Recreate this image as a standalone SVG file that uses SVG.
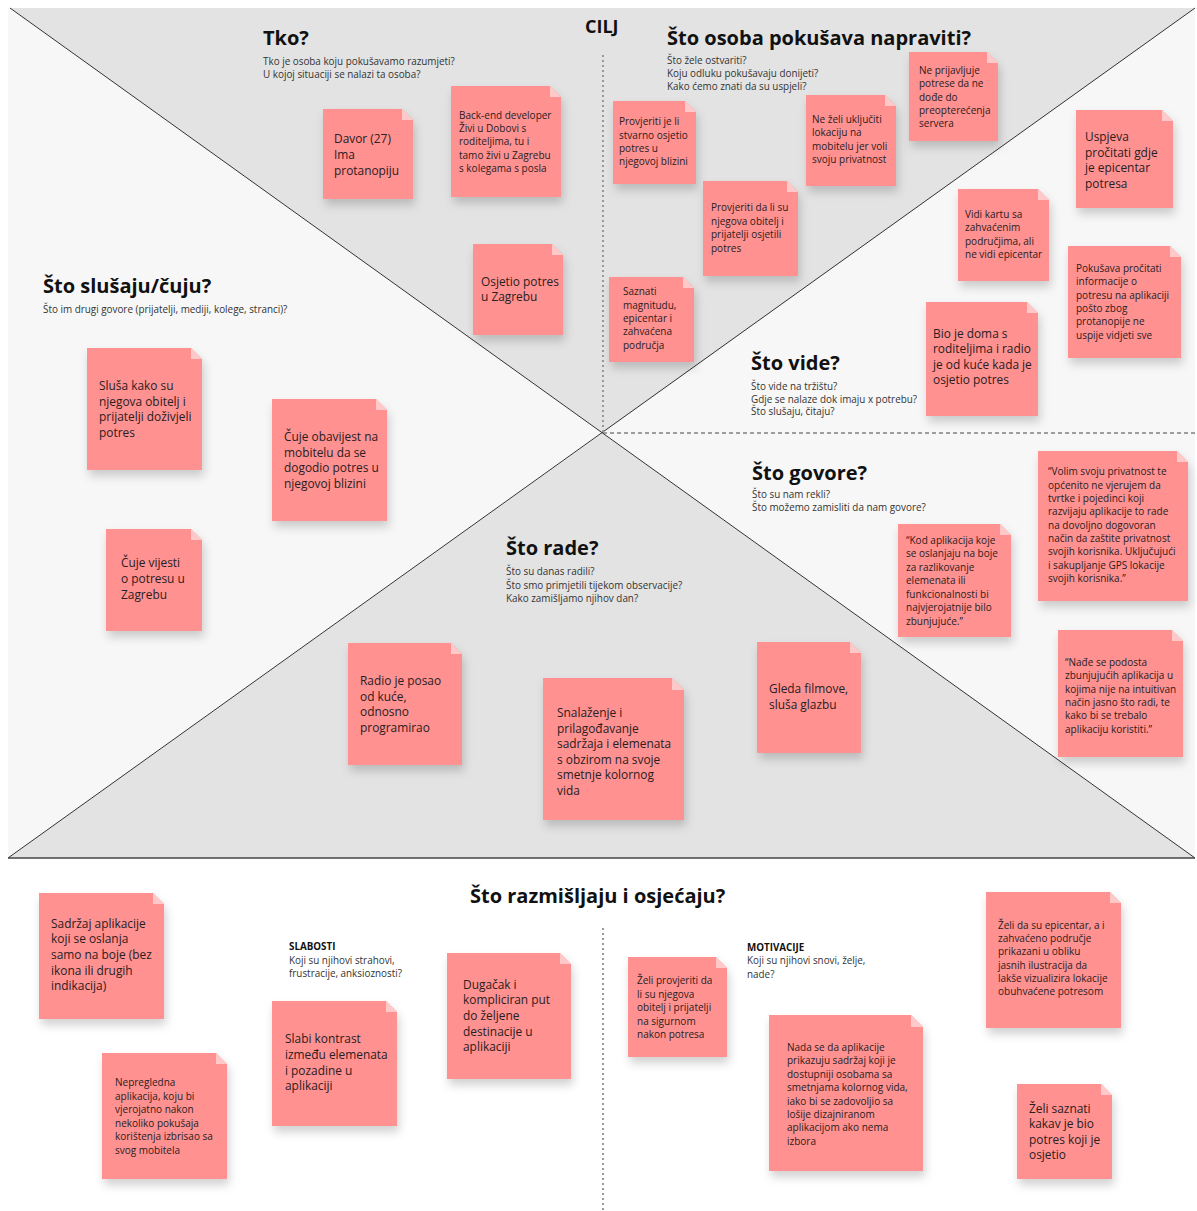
<svg xmlns="http://www.w3.org/2000/svg" width="1197" height="1211" viewBox="0 0 1197 1211">
<defs>
<filter id="sh" x="-20%" y="-20%" width="150%" height="160%">
<feDropShadow dx="2" dy="6" stdDeviation="5" flood-color="#000" flood-opacity="0.18"/>
</filter>
</defs>
<style>
text{font-family:"Open Sans","Noto Sans","DejaVu Sans",sans-serif}
.h{font-size:20px;font-weight:700;fill:#111}
.sub{font-size:9.9px;fill:#333}
.sb{font-size:9.8px;font-weight:700;fill:#111}
.note{fill:#ff9191}
.fold{fill:#ffc9c9}
.t12{font-size:11.9px;fill:#2a2020}
.t10{font-size:10px;fill:#2a2020}
.diag{stroke:#333;stroke-width:1;fill:none}
</style>
<rect x="0" y="0" width="1197" height="1211" fill="#ffffff"/>
<g id="panel">
<rect x="8" y="8" width="1187" height="850" fill="#f7f7f7"/>
<polygon points="10,8 1195,8 602.5,433" fill="#e3e3e3"/>
<polygon points="8,858 1195,858 602.5,433" fill="#e3e3e3"/>
<line class="diag" x1="10" y1="8" x2="1195" y2="858"/>
<line class="diag" x1="8" y1="858" x2="1195" y2="8"/>
<line x1="8" y1="858" x2="1195" y2="858" stroke="#444" stroke-width="1.5"/>
<line x1="603" y1="55" x2="603" y2="433" stroke="#999" stroke-width="2" stroke-dasharray="2,3"/>
<line x1="603" y1="433" x2="1197" y2="433" stroke="#444" stroke-width="1" stroke-dasharray="4,3"/>
<line x1="603" y1="928" x2="603" y2="1211" stroke="#999" stroke-width="2" stroke-dasharray="2,3"/>
</g>
<g id="headers">
<text class="h" x="263" y="45">Tko?</text>
<text class="sub" x="263" y="64.5">Tko je osoba koju pokušavamo razumjeti?</text>
<text class="sub" x="263" y="78">U kojoj situaciji se nalazi ta osoba?</text>
<text class="h" x="585" y="33" style="font-size:18px">CILJ</text>
<text class="h" x="667" y="45">Što osoba pokušava napraviti?</text>
<text class="sub" x="667" y="63.5">Što žele ostvariti?</text>
<text class="sub" x="667" y="77">Koju odluku pokušavaju donijeti?</text>
<text class="sub" x="667" y="90">Kako ćemo znati da su uspjeli?</text>
<text class="h" x="43" y="293">Što slušaju/čuju?</text>
<text class="sub" x="43" y="312.5">Što im drugi govore (prijatelji, mediji, kolege, stranci)?</text>
<text class="h" x="751" y="370">Što vide?</text>
<text class="sub" x="751" y="389.5">Što vide na tržištu?</text>
<text class="sub" x="751" y="402.5">Gdje se nalaze dok imaju x potrebu?</text>
<text class="sub" x="751" y="415">Što slušaju, čitaju?</text>
<text class="h" x="752" y="480">Što govore?</text>
<text class="sub" x="752" y="497.5">Što su nam rekli?</text>
<text class="sub" x="752" y="511">Što možemo zamisliti da nam govore?</text>
<text class="h" x="506" y="555">Što rade?</text>
<text class="sub" x="506" y="575">Što su danas radili?</text>
<text class="sub" x="506" y="588.5">Što smo primjetili tijekom observacije?</text>
<text class="sub" x="506" y="601.5">Kako zamišljamo njihov dan?</text>
<text class="h" x="470" y="903">Što razmišljaju i osjećaju?</text>
<text class="sb" x="289" y="950">SLABOSTI</text>
<text class="sub" x="289" y="963.5">Koji su njihovi strahovi,</text>
<text class="sub" x="289" y="977">frustracije, anksioznosti?</text>
<text class="sb" x="747" y="951">MOTIVACIJE</text>
<text class="sub" x="747" y="964">Koji su njihovi snovi, želje,</text>
<text class="sub" x="747" y="977.5">nade?</text>
</g>

<g id="n-davor"><path class="note" filter="url(#sh)" d="M323 109H402L413 120V199H323Z"/><path class="fold" d="M402 109L413 120H402Z"/>
<text class="t12"><tspan x="334" y="143">Davor (27)</tspan><tspan x="334" y="159">Ima</tspan><tspan x="334" y="175">protanopiju</tspan></text></g>

<g id="n-backend"><path class="note" filter="url(#sh)" d="M451 86H550L561 97V197H451Z"/><path class="fold" d="M550 86L561 97H550Z"/>
<text class="t10"><tspan x="459" y="118.5">Back-end developer</tspan><tspan x="459" y="132">Živi u Dobovi s</tspan><tspan x="459" y="145">roditeljima, tu i</tspan><tspan x="459" y="158.5">tamo živi u Zagrebu</tspan><tspan x="459" y="172">s kolegama s posla</tspan></text></g>

<g id="n-osjetio"><path class="note" filter="url(#sh)" d="M473 244H552L563 255V335H473Z"/><path class="fold" d="M552 244L563 255H552Z"/>
<text class="t12"><tspan x="481" y="286">Osjetio potres</tspan><tspan x="481" y="301">u Zagrebu</tspan></text></g>

<g id="n-provjeriti1"><path class="note" filter="url(#sh)" d="M613 101H685L696 112V184H613Z"/><path class="fold" d="M685 101L696 112H685Z"/>
<text class="t10"><tspan x="619" y="125">Provjeriti je li</tspan><tspan x="619" y="138.5">stvarno osjetio</tspan><tspan x="619" y="152">potres u</tspan><tspan x="619" y="165">njegovoj blizini</tspan></text></g>

<g id="n-provjeriti2"><path class="note" filter="url(#sh)" d="M703 181H787L798 192V276H703Z"/><path class="fold" d="M787 181L798 192H787Z"/>
<text class="t10"><tspan x="711" y="211">Provjeriti da li su</tspan><tspan x="711" y="224.5">njegova obitelj i</tspan><tspan x="711" y="238">prijatelji osjetili</tspan><tspan x="711" y="251.5">potres</tspan></text></g>

<g id="n-nezeli"><path class="note" filter="url(#sh)" d="M806 95H885L896 106V186H806Z"/><path class="fold" d="M885 95L896 106H885Z"/>
<text class="t10"><tspan x="812" y="123">Ne želi uključiti</tspan><tspan x="812" y="136.3">lokaciju na</tspan><tspan x="812" y="149.7">mobitelu jer voli</tspan><tspan x="812" y="163">svoju privatnost</tspan></text></g>

<g id="n-neprijavljuje"><path class="note" filter="url(#sh)" d="M909 52H987L998 63V141H909Z"/><path class="fold" d="M987 52L998 63H987Z"/>
<text class="t10"><tspan x="919" y="73.5">Ne prijavljuje</tspan><tspan x="919" y="87">potrese da ne</tspan><tspan x="919" y="100.5">dođe do</tspan><tspan x="919" y="114">preopterećenja</tspan><tspan x="919" y="127">servera</tspan></text></g>

<g id="n-saznati"><path class="note" filter="url(#sh)" d="M609 277H683L694 288V362H609Z"/><path class="fold" d="M683 277L694 288H683Z"/>
<text class="t10"><tspan x="623" y="295">Saznati</tspan><tspan x="623" y="308.5">magnitudu,</tspan><tspan x="623" y="322">epicentar i</tspan><tspan x="623" y="335">zahvaćena</tspan><tspan x="623" y="348.5">područja</tspan></text></g>

<g id="n-uspjeva"><path class="note" filter="url(#sh)" d="M1076 110H1162L1173 121V208H1076Z"/><path class="fold" d="M1162 110L1173 121H1162Z"/>
<text class="t12"><tspan x="1085" y="141">Uspjeva</tspan><tspan x="1085" y="156.5">pročitati gdje</tspan><tspan x="1085" y="172">je epicentar</tspan><tspan x="1085" y="187.5">potresa</tspan></text></g>

<g id="n-vidikartu"><path class="note" filter="url(#sh)" d="M958 189H1038L1049 200V281H958Z"/><path class="fold" d="M1038 189L1049 200H1038Z"/>
<text class="t10"><tspan x="965" y="217.5">Vidi kartu sa</tspan><tspan x="965" y="231">zahvaćenim</tspan><tspan x="965" y="244.5">područjima, ali</tspan><tspan x="965" y="258">ne vidi epicentar</tspan></text></g>

<g id="n-pokusava"><path class="note" filter="url(#sh)" d="M1068 246H1170L1181 257V358H1068Z"/><path class="fold" d="M1170 246L1181 257H1170Z"/>
<text class="t10"><tspan x="1076" y="272">Pokušava pročitati</tspan><tspan x="1076" y="285">informacije o</tspan><tspan x="1076" y="298.5">potresu na aplikaciji</tspan><tspan x="1076" y="312">pošto zbog</tspan><tspan x="1076" y="325">protanopije ne</tspan><tspan x="1076" y="338.5">uspije vidjeti sve</tspan></text></g>

<g id="n-biojedoma"><path class="note" filter="url(#sh)" d="M926 302H1027L1038 313V416H926Z"/><path class="fold" d="M1027 302L1038 313H1027Z"/>
<text class="t12"><tspan x="933" y="337.5">Bio je doma s</tspan><tspan x="933" y="353">roditeljima i radio</tspan><tspan x="933" y="368.5">je od kuće kada je</tspan><tspan x="933" y="384">osjetio potres</tspan></text></g>

<g id="n-slusa"><path class="note" filter="url(#sh)" d="M87 348H191L202 359V470H87Z"/><path class="fold" d="M191 348L202 359H191Z"/>
<text class="t12"><tspan x="99" y="390">Sluša kako su</tspan><tspan x="99" y="405.5">njegova obitelj i</tspan><tspan x="99" y="421">prijatelji doživjeli</tspan><tspan x="99" y="436.5">potres</tspan></text></g>

<g id="n-obavijest"><path class="note" filter="url(#sh)" d="M272 399H376L387 410V521H272Z"/><path class="fold" d="M376 399L387 410H376Z"/>
<text class="t12"><tspan x="284" y="441">Čuje obavijest na</tspan><tspan x="284" y="456.5">mobitelu da se</tspan><tspan x="284" y="472">dogodio potres u</tspan><tspan x="284" y="487.5">njegovoj blizini</tspan></text></g>

<g id="n-vijesti"><path class="note" filter="url(#sh)" d="M106 529H191L202 540V631H106Z"/><path class="fold" d="M191 529L202 540H191Z"/>
<text class="t12"><tspan x="121" y="567">Čuje vijesti</tspan><tspan x="121" y="583">o potresu u</tspan><tspan x="121" y="598.5">Zagrebu</tspan></text></g>

<g id="n-radio"><path class="note" filter="url(#sh)" d="M348 643H451L462 654V765H348Z"/><path class="fold" d="M451 643L462 654H451Z"/>
<text class="t12"><tspan x="360" y="685">Radio je posao</tspan><tspan x="360" y="700.5">od kuće,</tspan><tspan x="360" y="716">odnosno</tspan><tspan x="360" y="731.5">programirao</tspan></text></g>

<g id="n-snalazenje"><path class="note" filter="url(#sh)" d="M543 678H672L684 690V820H543Z"/><path class="fold" d="M672 678L684 690H672Z"/>
<text class="t12"><tspan x="557" y="717">Snalaženje i</tspan><tspan x="557" y="732.5">prilagođavanje</tspan><tspan x="557" y="748">sadržaja i elemenata</tspan><tspan x="557" y="763.5">s obzirom na svoje</tspan><tspan x="557" y="779">smetnje kolornog</tspan><tspan x="557" y="794.5">vida</tspan></text></g>

<g id="n-gleda"><path class="note" filter="url(#sh)" d="M757 642H850L861 653V753H757Z"/><path class="fold" d="M850 642L861 653H850Z"/>
<text class="t12"><tspan x="769" y="692.5">Gleda filmove,</tspan><tspan x="769" y="708.5">sluša glazbu</tspan></text></g>

<g id="n-kodaplikacija"><path class="note" filter="url(#sh)" d="M898 524H1000L1011 535V637H898Z"/><path class="fold" d="M1000 524L1011 535H1000Z"/>
<text class="t10"><tspan x="906" y="543.5">“Kod aplikacija koje</tspan><tspan x="906" y="557">se oslanjaju na boje</tspan><tspan x="906" y="570.5">za razlikovanje</tspan><tspan x="906" y="584">elemenata ili</tspan><tspan x="906" y="597.5">funkcionalnosti bi</tspan><tspan x="906" y="611">najvjerojatnije bilo</tspan><tspan x="906" y="624.5">zbunjujuće.”</tspan></text></g>

<g id="n-volim"><path class="note" filter="url(#sh)" d="M1038 451H1177L1188 462V601H1038Z"/><path class="fold" d="M1177 451L1188 462H1177Z"/>
<text class="t10"><tspan x="1048" y="475">“Volim svoju privatnost te</tspan><tspan x="1048" y="488.5">općenito ne vjerujem da</tspan><tspan x="1048" y="502">tvrtke i pojedinci koji</tspan><tspan x="1048" y="515">razvijaju aplikacije to rade</tspan><tspan x="1048" y="528.5">na dovoljno dogovoran</tspan><tspan x="1048" y="542">način da zaštite privatnost</tspan><tspan x="1048" y="555">svojih korisnika. Uključujući</tspan><tspan x="1048" y="568.5">i sakupljanje GPS lokacije</tspan><tspan x="1048" y="582">svojih korisnika.”</tspan></text></g>

<g id="n-nadjese"><path class="note" filter="url(#sh)" d="M1058 630H1172L1183 641V757H1058Z"/><path class="fold" d="M1172 630L1183 641H1172Z"/>
<text class="t10"><tspan x="1065" y="666">“Nađe se podosta</tspan><tspan x="1065" y="679">zbunjujućih aplikacija u</tspan><tspan x="1065" y="692.5">kojima nije na intuitivan</tspan><tspan x="1065" y="706">način jasno što radi, te</tspan><tspan x="1065" y="719">kako bi se trebalo</tspan><tspan x="1065" y="732.5">aplikaciju koristiti.”</tspan></text></g>

<g id="n-sadrzaj"><path class="note" filter="url(#sh)" d="M39 893H153L164 904V1019H39Z"/><path class="fold" d="M153 893L164 904H153Z"/>
<text class="t12"><tspan x="51" y="927.5">Sadržaj aplikacije</tspan><tspan x="51" y="943">koji se oslanja</tspan><tspan x="51" y="959">samo na boje (bez</tspan><tspan x="51" y="974.5">ikona ili drugih</tspan><tspan x="51" y="990">indikacija)</tspan></text></g>

<g id="n-nepregledna"><path class="note" filter="url(#sh)" d="M102 1053H216L227 1064V1179H102Z"/><path class="fold" d="M216 1053L227 1064H216Z"/>
<text class="t10"><tspan x="115" y="1086">Nepregledna</tspan><tspan x="115" y="1099.5">aplikacija, koju bi</tspan><tspan x="115" y="1113">vjerojatno nakon</tspan><tspan x="115" y="1126.5">nekoliko pokušaja</tspan><tspan x="115" y="1140">korištenja izbrisao sa</tspan><tspan x="115" y="1153.5">svog mobitela</tspan></text></g>

<g id="n-slabi"><path class="note" filter="url(#sh)" d="M272 1001H386L397 1012V1126H272Z"/><path class="fold" d="M386 1001L397 1012H386Z"/>
<text class="t12"><tspan x="285" y="1043">Slabi kontrast</tspan><tspan x="285" y="1058.5">između elemenata</tspan><tspan x="285" y="1074.5">i pozadine u</tspan><tspan x="285" y="1090">aplikaciji</tspan></text></g>

<g id="n-dugacak"><path class="note" filter="url(#sh)" d="M447 953H560L571 964V1079H447Z"/><path class="fold" d="M560 953L571 964H560Z"/>
<text class="t12"><tspan x="463" y="988.5">Dugačak i</tspan><tspan x="463" y="1004">kompliciran put</tspan><tspan x="463" y="1020">do željene</tspan><tspan x="463" y="1035.5">destinacije u</tspan><tspan x="463" y="1051">aplikaciji</tspan></text></g>

<g id="n-zeliprovjeriti"><path class="note" filter="url(#sh)" d="M628 957H716L727 968V1057H628Z"/><path class="fold" d="M716 957L727 968H716Z"/>
<text class="t10"><tspan x="637" y="984">Želi provjeriti da</tspan><tspan x="637" y="997.5">li su njegova</tspan><tspan x="637" y="1011">obitelj i prijatelji</tspan><tspan x="637" y="1024.5">na sigurnom</tspan><tspan x="637" y="1038">nakon potresa</tspan></text></g>

<g id="n-nadase"><path class="note" filter="url(#sh)" d="M769 1015H911L923 1027V1171H769Z"/><path class="fold" d="M911 1015L923 1027H911Z"/>
<text class="t10"><tspan x="787" y="1051">Nada se da aplikacije</tspan><tspan x="787" y="1064">prikazuju sadržaj koji je</tspan><tspan x="787" y="1077.5">dostupniji osobama sa</tspan><tspan x="787" y="1091">smetnjama kolornog vida,</tspan><tspan x="787" y="1104.5">iako bi se zadovoljio sa</tspan><tspan x="787" y="1118">lošije dizajniranom</tspan><tspan x="787" y="1131">aplikacijom ako nema</tspan><tspan x="787" y="1144.5">izbora</tspan></text></g>

<g id="n-zelidasu"><path class="note" filter="url(#sh)" d="M986 892H1110L1121 903V1028H986Z"/><path class="fold" d="M1110 892L1121 903H1110Z"/>
<text class="t10"><tspan x="998" y="928.5">Želi da su epicentar, a i</tspan><tspan x="998" y="942">zahvaćeno područje</tspan><tspan x="998" y="955">prikazani u obliku</tspan><tspan x="998" y="968.5">jasnih ilustracija da</tspan><tspan x="998" y="982">lakše vizualizira lokacije</tspan><tspan x="998" y="995">obuhvaćene potresom</tspan></text></g>

<g id="n-zelisaznati"><path class="note" filter="url(#sh)" d="M1017 1084H1101L1112 1095V1179H1017Z"/><path class="fold" d="M1101 1084L1112 1095H1101Z"/>
<text class="t12"><tspan x="1029" y="1112.5">Želi saznati</tspan><tspan x="1029" y="1128">kakav je bio</tspan><tspan x="1029" y="1143.5">potres koji je</tspan><tspan x="1029" y="1159">osjetio</tspan></text></g>
</svg>
